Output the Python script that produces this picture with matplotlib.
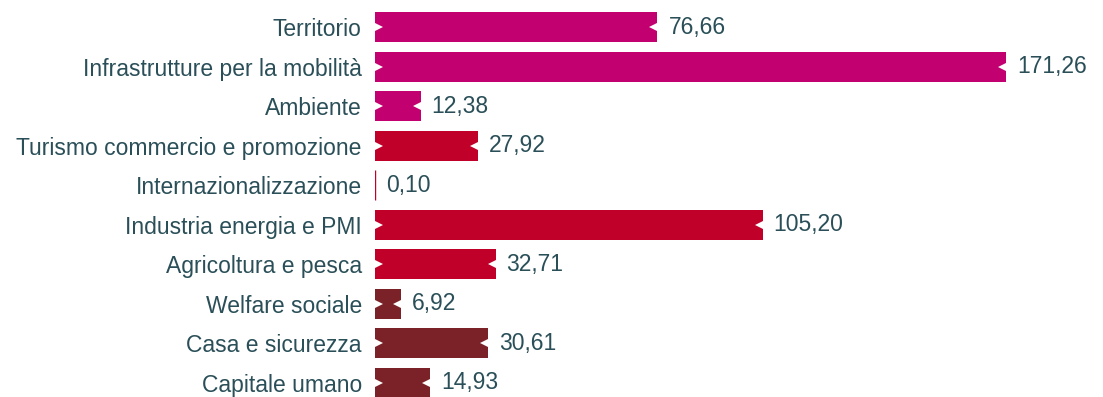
from matplotlib import pyplot as plt
import numpy as np

# Spending by sector (values shown with Italian decimal comma)
categories = [
    "Territorio",
    "Infrastrutture per la mobilità",
    "Ambiente",
    "Turismo commercio e promozione",
    "Internazionalizzazione",
    "Industria energia e PMI",
    "Agricoltura e pesca",
    "Welfare sociale",
    "Casa e sicurezza",
    "Capitale umano",
]
values = [76.66, 171.26, 12.38, 27.92, 0.10, 105.20, 32.71, 6.92, 30.61, 14.93]
groups = [0, 0, 0, 1, 1, 1, 1, 2, 2, 2]

group_colors = ["#C2006F", "#C00028", "#7A2227"]
text_color = "#2A4F58"

plt.rcParams['font.family'] = ['Liberation Sans', 'DejaVu Sans']

fig = plt.figure(figsize=(11.03, 3.97), dpi=100)
ax = fig.add_axes([375 / 1103, 0, 1 - 375 / 1103, 1])

y = np.arange(len(categories))
colors = [group_colors[g] for g in groups]
# very small values still get a hairline so they stay visible
widths = [1.0 if v < 1 else 0 for v in values]
ax.barh(y, values, height=0.76, color=colors, edgecolor=colors,
        linewidth=widths)

# small white notches cut into both ends of each bar
for yi, v in zip(y, values):
    if v < 3:
        continue
    ax.plot([0], [yi], marker='>', color='white', markersize=12,
            markeredgewidth=0, linestyle='none')
    ax.plot([v], [yi], marker='<', color='white', markersize=12,
            markeredgewidth=0, linestyle='none')

# value labels
for yi, v in zip(y, values):
    label = f"{v:.2f}".replace(".", ",")
    ax.text(v + 3.0, yi, label, va='center', ha='left',
            fontsize=16.5, color=text_color)

ax.set_xlim(0, (1103 - 375) / 3.685)
ax.set_ylim(9.355, -0.683)
ax.set_yticks(y)
ax.set_yticklabels(categories, fontsize=16.5, color=text_color)
ax.tick_params(axis='y', length=0, pad=9.5)
ax.set_xticks([])
for side in ['top', 'right', 'bottom', 'left']:
    ax.spines[side].set_visible(False)

plt.savefig("out.png", dpi=100)
